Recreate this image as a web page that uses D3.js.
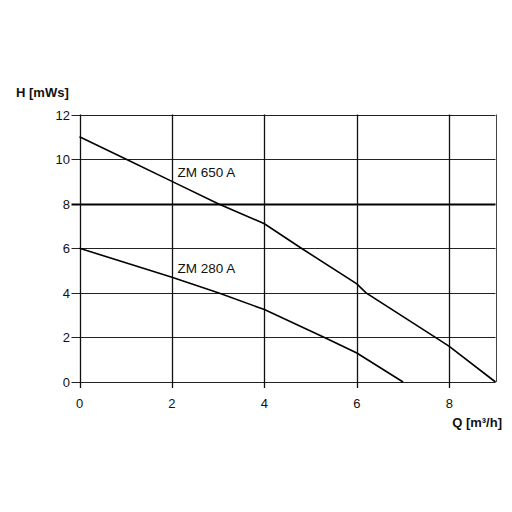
<!DOCTYPE html>
<html><head><meta charset="utf-8">
<script src="https://cdn.jsdelivr.net/npm/d3@7"></script>
<style>body{margin:0;background:#fff}svg{display:block}</style>
</head><body>
<svg id="c" width="512" height="512"></svg>
<script>
const xTicks = [0, 2, 4, 6, 8];
const yTicks = [0, 2, 4, 6, 8, 10, 12];
const zm650Q = [0, 1, 2, 3, 4, 4.8, 6, 6.2, 7.7, 8, 9];
const zm650H = [11, 10, 9, 8, 7.1, 6, 4.4, 4, 2, 1.6, 0];
const zm280Q = [0, 2, 3, 4, 5.3, 6, 7];
const zm280H = [6, 4.7, 4, 3.25, 2, 1.3, 0];
const seriesNames = ["ZM 650 A", "ZM 280 A"];

const svg = d3.select("#c");
const x = d3.scaleLinear().domain([0, 9]).range([79.5, 495.5]);
const y = d3.scaleLinear().domain([0, 12]).range([382, 114.5]);
const font = "Liberation Sans, Arial, sans-serif";

// grid horizontal
svg.append("g").selectAll("line").data(yTicks).join("line")
  .attr("x1", x(0) - 8).attr("x2", x(9))
  .attr("y1", d => Math.round(y(d)) + 0.5).attr("y2", d => Math.round(y(d)) + 0.5)
  .attr("stroke", d => d === 8 ? "#000" : "#222")
  .attr("stroke-width", d => d === 8 ? 2 : 1.2);
// grid vertical
svg.append("g").selectAll("line").data(xTicks.concat([9])).join("line")
  .attr("x1", d => Math.round(x(d)) + 0.5).attr("x2", d => Math.round(x(d)) + 0.5)
  .attr("y1", y(12)).attr("y2", d => d === 9 ? y(0) : y(0) + 6)
  .attr("stroke", d => d === 9 ? "#444" : "#111")
  .attr("stroke-width", d => d === 9 ? 1 : 1.3);

// tick labels
svg.append("g").selectAll("text").data(yTicks).join("text")
  .attr("x", 70).attr("y", d => y(d) + 5)
  .attr("text-anchor", "end").attr("font-family", font).attr("font-size", 13)
  .attr("fill", "#111").text(d => d);
svg.append("g").selectAll("text").data(xTicks).join("text")
  .attr("x", d => x(d)).attr("y", 408)
  .attr("text-anchor", "middle").attr("font-family", font).attr("font-size", 13)
  .attr("fill", "#111").text(d => d);

// axis titles
svg.append("text").attr("x", 16).attr("y", 97).attr("font-family", font)
  .attr("font-size", 13).attr("font-weight", "bold").attr("fill", "#111").text("H [mWs]");
svg.append("text").attr("x", 502).attr("y", 427).attr("text-anchor", "end").attr("font-family", font)
  .attr("font-size", 13).attr("font-weight", "bold").attr("fill", "#111").text("Q [m³/h]");

// curves
const line = d3.line().x(d => x(d[0])).y(d => y(d[1]));
const curves = [d3.zip(zm650Q, zm650H), d3.zip(zm280Q, zm280H)];
svg.append("g").selectAll("path").data(curves).join("path")
  .attr("d", line).attr("fill", "none").attr("stroke", "#000").attr("stroke-width", 1.6);

// labels
const labelPos = [[2.12, 9.18], [2.12, 4.9]];
svg.append("g").selectAll("text").data(seriesNames).join("text")
  .attr("x", (d, i) => x(labelPos[i][0])).attr("y", (d, i) => y(labelPos[i][1]))
  .attr("font-family", font).attr("font-size", 13.5).attr("fill", "#111").text(d => d);
</script>
</body></html>
